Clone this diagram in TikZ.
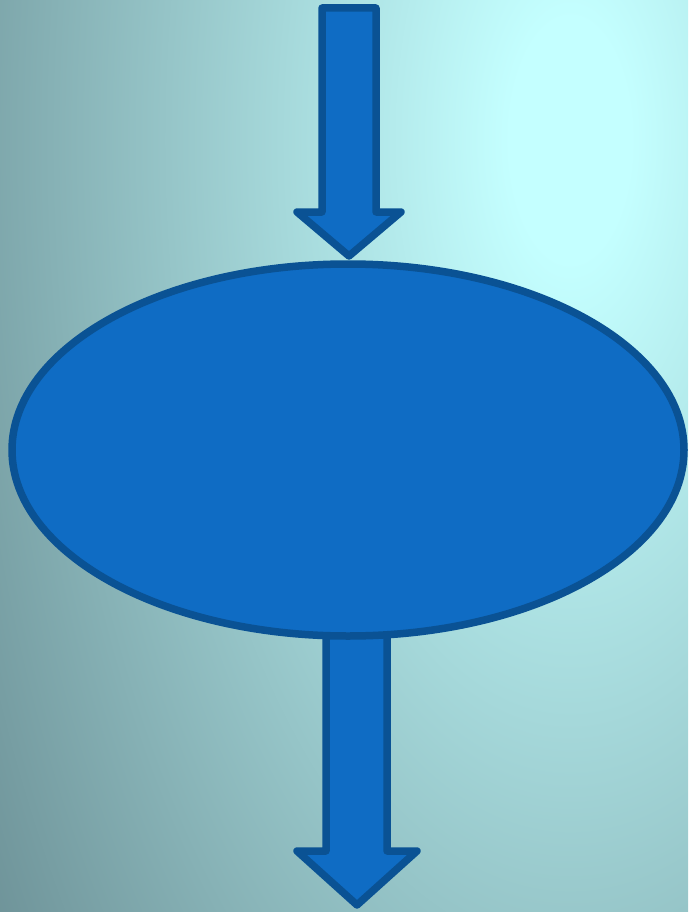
\documentclass[tikz,border=0pt]{standalone}
\usetikzlibrary{positioning,shapes.geometric}
\definecolor{glowin}{RGB}{196,255,255}
\definecolor{glowout}{RGB}{103,138,144}
\definecolor{boxfill}{RGB}{15,108,196}
\definecolor{boxline}{RGB}{10,82,148}
\pgfdeclareradialshading{bgglow}{\pgfpoint{0bp}{0bp}}{color(0bp)=(glowin); color(2bp)=(glowin); color(25bp)=(glowout); color(50bp)=(glowout)}
\tikzset{flow/shape/.style={fill=boxfill, draw=boxline, line width=7.5pt, line join=round}}

\begin{document}
\begin{tikzpicture}[x=1pt, y=-1pt]
  \useasboundingbox (0,0) rectangle (688,912);
  \begin{scope}
    \clip (0,0) rectangle (688,912);
    \shade[shading=bgglow] (570,140) ellipse [x radius=750, y radius=1500];
  \end{scope}
  \coordinate (mid) at (348,450);
  % outgoing arrow, shaft hidden under the ellipse
  \draw[flow/shape] (326,600) -- (387,600) -- (387,851) -- (417,851) -- (357,905)
    -- (297,851) -- (326,851) -- cycle;
  \node[flow/shape, ellipse, minimum width=672pt, minimum height=372pt, inner sep=0pt] (step) at (mid) {};
  % incoming arrow
  \draw[flow/shape] (322,8) -- (376,8) -- (376,212) -- (401,212) -- (349,256)
    -- (297,212) -- (322,212) -- cycle;
\end{tikzpicture}
\end{document}
